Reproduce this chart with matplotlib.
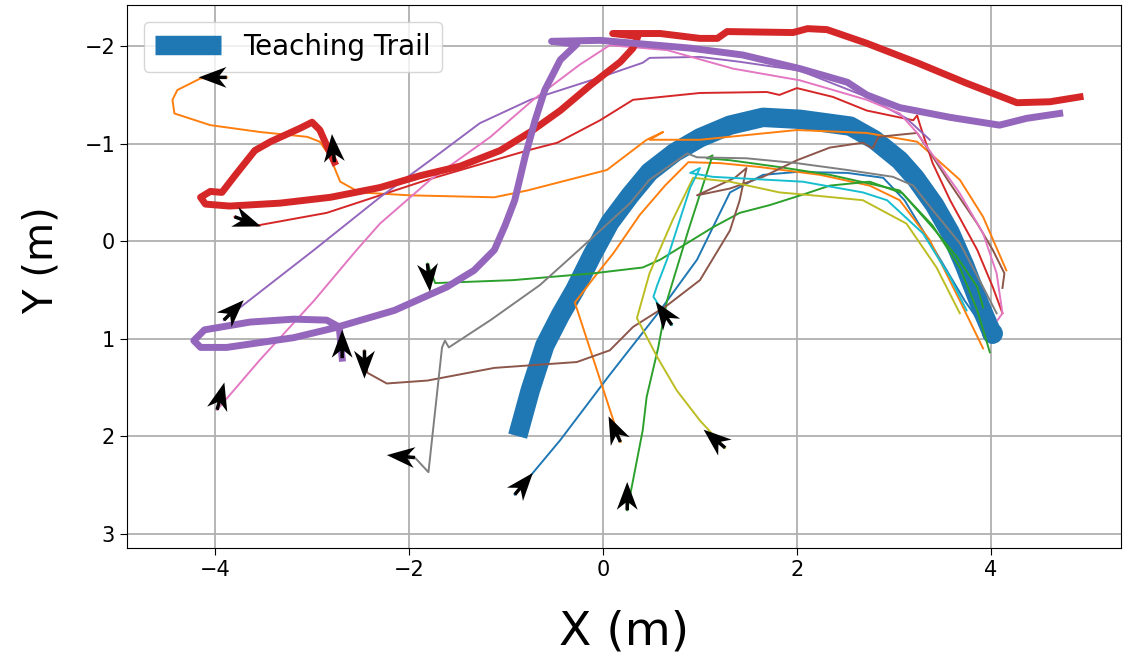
import numpy as np
import matplotlib
matplotlib.use("Agg")
import matplotlib.pyplot as plt

# ---------------- data (meters) ----------------
teach_x = [-0.88, -0.75, -0.6, -0.44, -0.29, -0.11, 0.07, 0.28, 0.48, 0.74, 1.0, 1.31, 1.65, 2.03,
           2.55, 2.8, 3.06, 3.22, 3.42, 3.58, 3.73, 3.89, 4.01]
teach_y = [2.0, 1.53, 1.07, 0.76, 0.5, 0.14, -0.19, -0.47, -0.71, -0.91, -1.06, -1.19, -1.27, -1.25,
           -1.18, -1.04, -0.83, -0.65, -0.37, -0.09, 0.25, 0.66, 0.94]

red_thick_x = [-2.77, -2.84, -2.92, -3.0, -3.12, -3.43, -3.59, -3.79, -3.93, -4.05, -4.15, -4.1, -3.85,
               -3.33, -2.81, -2.3, -1.89, -1.47, -1.06, -0.75, -0.44, -0.13, 0.18, 0.31, 0.36, 0.1,
               0.59, 1.0, 1.18, 1.28, 1.96, 2.11, 2.31, 2.72, 3.24, 3.75, 4.27, 4.61, 4.92]
red_thick_y = [-0.81, -0.96, -1.14, -1.22, -1.16, -1.02, -0.93, -0.68, -0.5, -0.51, -0.45, -0.38, -0.36,
               -0.39, -0.45, -0.55, -0.67, -0.77, -0.93, -1.12, -1.34, -1.6, -1.84, -1.98, -2.1, -2.13,
               -2.13, -2.08, -2.08, -2.15, -2.14, -2.18, -2.17, -2.03, -1.83, -1.62, -1.42, -1.43, -1.48]

purple_thick_x = [-2.69, -2.72, -2.85, -3.19, -3.64, -4.11, -4.22, -4.15, -3.88, -3.19, -2.77, -2.15,
                  -1.61, -1.33, -1.12, -1.01, -0.91, -0.8, -0.7, -0.6, -0.44, -0.27, -0.53, -0.03,
                  0.9, 1.44, 2.03, 2.52, 2.72, 3.06, 3.58, 4.09, 4.37, 4.71]
purple_thick_y = [1.2, 0.88, 0.81, 0.8, 0.83, 0.91, 1.02, 1.09, 1.09, 0.99, 0.89, 0.71,
                  0.47, 0.3, 0.09, -0.16, -0.42, -0.88, -1.24, -1.55, -1.86, -2.02, -2.05, -2.06,
                  -1.98, -1.91, -1.77, -1.63, -1.5, -1.37, -1.27, -1.19, -1.26, -1.31]

blue_x = [-0.91, -0.44, 0.07, 0.59, 0.97, 1.31, 1.65, 2.0, 2.52, 2.89, 3.11, 3.42, 3.73, 3.94]
blue_y = [2.6, 2.04, 1.37, 0.71, 0.19, -0.5, -0.68, -0.71, -0.7, -0.65, -0.42, 0.09, 0.61, 0.91]

orange1_x = [-3.88, -4.15, -4.39, -4.44, -4.42, -4.05, -3.54, -3.05, -2.92, -2.81, -2.76, -2.71, -2.51,
             -1.99, -1.12, -0.78, 0.04, 0.45, 0.62, 0.48, 1.0, 2.0, 2.72, 3.24, 3.68, 3.92, 4.16]
orange1_y = [-1.68, -1.67, -1.55, -1.45, -1.31, -1.19, -1.12, -1.07, -1.02, -0.86, -0.73, -0.61, -0.5,
             -0.47, -0.45, -0.52, -0.73, -1.04, -1.12, -1.04, -1.04, -1.14, -1.11, -1.02, -0.63, -0.25, 0.3]

orange2_x = [0.18, -0.29, -0.09, 0.11, 0.38, 0.64, 0.88, 1.21, 1.62, 2.24, 2.75, 3.06, 3.37, 3.68, 3.92]
orange2_y = [2.06, 0.63, 0.37, 0.12, -0.27, -0.57, -0.81, -0.8, -0.76, -0.68, -0.57, -0.42, -0.01, 0.61, 1.1]

green1_x = [-1.81, -1.73, -0.93, -0.1, 0.41, 0.59, 1.13, 1.41, 1.72, 2.1, 2.34, 2.75, 3.09, 3.4, 3.65, 3.86, 3.92]
green1_y = [0.23, 0.43, 0.4, 0.33, 0.27, 0.19, -0.14, -0.29, -0.37, -0.49, -0.57, -0.61, -0.49, -0.14, 0.16, 0.47, 0.68]

green2_x = [0.25, 0.41, 0.45, 0.57, 0.66, 0.88, 1.13, 1.07, 1.31, 1.82, 2.34, 2.75, 3.06, 3.4, 3.68, 3.86, 3.99]
green2_y = [2.76, 1.94, 1.6, 1.09, 0.61, -0.11, -0.88, -0.85, -0.83, -0.76, -0.68, -0.59, -0.52, -0.16, 0.27, 0.71, 1.14]

red_x = [-3.8, -3.57, -2.85, -1.81, -0.78, -0.47, -0.03, 0.31, 1.0, 1.69, 1.82, 2.0, 2.37, 2.72, 3.2,
         3.24, 3.27, 3.4, 3.58, 3.86, 4.02, 4.12]
red_y = [-0.25, -0.16, -0.29, -0.63, -0.93, -1.01, -1.24, -1.45, -1.52, -1.53, -1.5, -1.57, -1.48, -1.34, -1.24,
         -1.29, -1.19, -0.8, -0.42, 0.09, 0.47, 0.74]

purple_x = [-3.91, -2.98, -2.3, -1.78, -1.27, -0.75, -0.03, 0.41, 0.48, 1.0, 1.41, 2.03, 2.72, 3.13, 3.37]
purple_y = [0.81, 0.09, -0.45, -0.83, -1.21, -1.45, -1.68, -1.83, -1.88, -1.89, -1.84, -1.75, -1.48, -1.26, -1.04]

brown_x = [-2.46, -2.43, -2.23, -1.81, -1.12, -0.27, 0.07, 0.31, 0.66, 1.0, 1.31, 1.41, 1.48, 1.36, 0.97,
           1.31, 1.65, 2.0, 2.34, 2.68, 2.78, 2.84, 3.24, 3.34, 3.58, 3.86, 4.02, 4.14, 4.12]
brown_y = [1.12, 1.35, 1.46, 1.43, 1.3, 1.24, 1.12, 0.88, 0.66, 0.4, -0.11, -0.42, -0.75, -0.65, -0.47,
           -0.54, -0.66, -0.83, -0.96, -1.01, -0.95, -1.07, -1.11, -0.96, -0.59, -0.18, 0.09, 0.33, 0.48]

pink_x = [-3.98, -3.54, -2.98, -2.54, -2.3, -1.78, -1.16, -0.72, -0.24, 0.07, 0.66, 1.34, 2.03, 2.72, 3.06,
          3.24, 3.68, 3.92, 4.06, 4.12, 4.07]
pink_y = [1.73, 1.22, 0.61, 0.09, -0.18, -0.63, -1.07, -1.45, -1.81, -2.01, -1.96, -1.77, -1.65, -1.45, -1.31,
          -1.11, -0.49, -0.08, 0.33, 0.74, 0.81]

gray_x = [-1.94, -1.8, -1.66, -1.63, -1.59, -1.16, -0.65, -0.27, 0.28, 0.48, 0.87, 0.97, 1.48, 2.0, 2.52,
          2.99, 3.2, 3.4, 3.68, 3.92, 4.06]
gray_y = [2.22, 2.37, 1.09, 1.02, 1.09, 0.81, 0.45, 0.11, -0.39, -0.63, -0.9, -0.86, -0.85, -0.8, -0.73,
          -0.66, -0.57, -0.32, 0.02, 0.47, 0.74]

olive_x = [1.26, 1.0, 0.76, 0.56, 0.35, 0.48, 0.72, 0.93, 1.31, 1.82, 2.16, 2.68, 3.13, 3.44, 3.68]
olive_y = [2.12, 1.84, 1.53, 1.19, 0.79, 0.33, -0.22, -0.65, -0.61, -0.5, -0.47, -0.42, -0.18, 0.27, 0.74]

cyan_x = [0.71, 0.52, 0.56, 0.66, 0.9, 1.0, 0.9, 1.13, 2.06, 2.68, 2.93, 3.3, 3.58, 3.75]
cyan_y = [0.86, 0.57, 0.45, 0.19, -0.55, -0.75, -0.7, -0.66, -0.61, -0.5, -0.42, -0.08, 0.37, 0.71]

# initial heading of each run (degrees, in data x/y coordinates)
thin_runs = [
    (blue_x, blue_y, 'C0', -50),
    (orange1_x, orange1_y, 'C1', 180),
    (orange2_x, orange2_y, 'C1', -115),
    (green1_x, green1_y, 'C2', 85),
    (green2_x, green2_y, 'C2', -90),
    (red_x, red_y, 'C3', 20),
    (purple_x, purple_y, 'C4', -45),
    (brown_x, brown_y, 'C5', 90),
    (pink_x, pink_y, 'C6', -75),
    (gray_x, gray_y, 'C7', 185),
    (olive_x, olive_y, 'C8', -140),
    (cyan_x, cyan_y, 'C9', -125),
]
thick_runs = [
    (red_thick_x, red_thick_y, 'C3', -95),
    (purple_thick_x, purple_thick_y, 'C4', -90),
]

# ---------------- plot ----------------
fig = plt.figure(figsize=(11.23, 6.55), dpi=100)
ax = fig.add_axes([0.113, 0.163, 0.885, 0.829])

ax.grid(True, color='#b0b0b0', linewidth=1.3, zorder=0)
ax.set_axisbelow(True)

ax.plot(teach_x, teach_y, color='C0', linewidth=14, solid_capstyle='butt',
        solid_joinstyle='round', label='Teaching Trail', zorder=2)
ax.plot(teach_x[-1:], teach_y[-1:], 'o', color='C0', markersize=14, zorder=2)

for xs, ys, c, h in thin_runs:
    ax.plot(xs, ys, color=c, linewidth=1.4, zorder=3)
for xs, ys, c, h in thick_runs:
    ax.plot(xs, ys, color=c, linewidth=5, zorder=4, solid_joinstyle='round')

all_runs = thin_runs + thick_runs
sx = [r[0][0] for r in all_runs]
sy = [r[1][0] for r in all_runs]
hd = np.radians([r[3] for r in all_runs])
L = 0.29
ax.quiver(sx, sy, L * np.cos(hd), L * np.sin(hd), angles='xy', scale_units='xy', scale=1,
          color='black', width=0.0035, headwidth=6, headlength=8, headaxislength=6, zorder=6)

ax.set_xlim(-4.91, 5.34)
ax.set_ylim(3.15, -2.42)
ax.set_xticks([-4, -2, 0, 2, 4])
ax.set_yticks([-2, -1, 0, 1, 2, 3])
ax.tick_params(labelsize=15, length=5)
ax.set_xlabel('X (m)', fontsize=34)
ax.set_ylabel('Y (m)', fontsize=29)
ax.xaxis.set_label_coords(0.5, -0.112)
ax.yaxis.set_label_coords(-0.066, 0.53)
ax.legend(loc='upper left', fontsize=20, handlelength=2.4, borderaxespad=0.6)

fig.savefig('out.png', dpi=100)
